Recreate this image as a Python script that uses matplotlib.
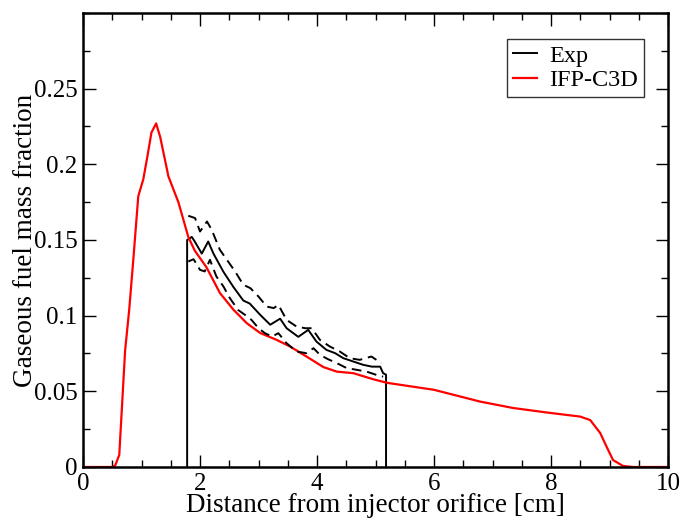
import matplotlib
matplotlib.use("Agg")
import matplotlib.pyplot as plt
from matplotlib.ticker import MultipleLocator

# IFP-C3D simulation (red)
x_sim = [0, 0.5, 0.55, 0.62, 0.72, 0.79, 0.86, 0.945, 1.03, 1.10, 1.17, 1.25,
         1.32, 1.46, 1.63, 1.8, 1.91, 2.11, 2.34, 2.57, 2.80, 3.03, 3.31, 3.54,
         3.82, 4.11, 4.34, 4.62, 4.96, 5.2, 6.0, 6.79, 7.35, 7.93, 8.5, 8.67,
         8.84, 8.95, 9.06, 9.23, 9.4, 10]
y_sim = [0, 0, 0.001, 0.008, 0.077, 0.104, 0.137, 0.179, 0.19, 0.205, 0.221,
         0.227, 0.218, 0.192, 0.175, 0.152, 0.143, 0.132, 0.115, 0.104, 0.095,
         0.0885, 0.084, 0.0796, 0.073, 0.066, 0.063, 0.062, 0.058, 0.0556,
         0.051, 0.0432, 0.039, 0.036, 0.0333, 0.031, 0.0225, 0.0134, 0.0046,
         0.0007, 0, 0]

# experiment (solid black), with the vertical edges at start and end
x_exp = [1.78, 1.78, 1.86, 1.91, 2.03, 2.14, 2.23, 2.40, 2.57, 2.74, 2.85,
         3.03, 3.20, 3.37, 3.48, 3.68, 3.85, 3.99, 4.16, 4.31, 4.45, 4.62,
         4.79, 4.94, 5.08, 5.13, 5.18, 5.18]
y_exp = [0, 0.150, 0.152, 0.149, 0.141, 0.149, 0.141, 0.129, 0.119, 0.110,
         0.108, 0.1005, 0.094, 0.098, 0.0917, 0.086, 0.0906, 0.0829, 0.0774,
         0.0752, 0.0719, 0.0697, 0.0675, 0.0663, 0.0663, 0.062, 0.061, 0]

# experimental uncertainty (dashed)
x_up = [1.80, 1.915, 2.00, 2.12, 2.20, 2.34, 2.46, 2.60, 2.74, 2.86, 3.00,
        3.14, 3.26, 3.34, 3.48, 3.65, 3.80, 3.91, 4.05, 4.22, 4.39, 4.56,
        4.73, 4.93, 5.10]
y_up = [0.166, 0.1645, 0.1556, 0.1622, 0.1567, 0.1435, 0.1369, 0.1292,
        0.1204, 0.1182, 0.1126, 0.106, 0.105, 0.1071, 0.0972, 0.0928, 0.0917,
        0.0917, 0.084, 0.0796, 0.0763, 0.0719, 0.0708, 0.073, 0.0686]
x_lo = [1.80, 1.89, 2.00, 2.08, 2.17, 2.28, 2.40, 2.51, 2.65, 2.77, 2.88,
        3.00, 3.11, 3.23, 3.34, 3.48, 3.65, 3.82, 3.94, 4.05, 4.19, 4.34,
        4.51, 4.68, 4.85, 5.02, 5.13]
y_lo = [0.1358, 0.1373, 0.1303, 0.1292, 0.1369, 0.1259, 0.1193, 0.1116,
        0.1038, 0.1005, 0.0972, 0.0917, 0.0884, 0.0862, 0.0884, 0.0818,
        0.0763, 0.0752, 0.0785, 0.0741, 0.0712, 0.0686, 0.0653, 0.0642,
        0.063, 0.0608, 0.0597]

plt.rcParams['font.family'] = ['Liberation Serif', 'DejaVu Serif']

fig = plt.figure(figsize=(6.82, 5.19), dpi=100)
ax = fig.add_axes([0.1217, 0.1002, 0.8578, 0.8748])

ax.plot(x_exp, y_exp, color='black', lw=1.4, label='Exp')
ax.plot(x_sim, y_sim, color='red', lw=1.6, label='IFP-C3D')
ax.plot(x_up, y_up, color='black', lw=1.4, ls=(0, (5, 3)))
ax.plot(x_lo, y_lo, color='black', lw=1.4, ls=(0, (5, 3)))

ax.set_xlim(0, 10)
ax.set_ylim(0, 0.3)
ax.xaxis.set_minor_locator(MultipleLocator(0.5))
ax.yaxis.set_minor_locator(MultipleLocator(0.025))
ax.set_yticks([0, 0.05, 0.1, 0.15, 0.2, 0.25])
ax.set_yticklabels(['0', '0.05', '0.1', '0.15', '0.2', '0.25'])
ax.set_xticks([0, 2, 4, 6, 8, 10])
ax.set_xticklabels(['0', '2', '4', '6', '8', '10'])

ax.tick_params(which='both', direction='in', top=True, right=True,
               labelsize=18, pad=4)
ax.tick_params(which='major', length=9, width=1)
ax.tick_params(which='minor', length=5, width=1)
for s in ax.spines.values():
    s.set_linewidth(1.8)

ax.set_xlabel('Distance from injector orifice [cm]', fontsize=19.5, labelpad=-1)
ax.set_ylabel('Gaseous fuel mass fraction', fontsize=19.5, labelpad=-3)

leg = ax.legend(loc='upper right', fontsize=17.5, frameon=True, fancybox=False,
                handlelength=1.0, handletextpad=0.5, borderpad=0.25,
                labelspacing=0.1, borderaxespad=0,
                bbox_to_anchor=(0.959, 0.943))
leg.get_frame().set_edgecolor('black')
leg.get_frame().set_linewidth(1.0)

fig.savefig('out.png', dpi=100)
